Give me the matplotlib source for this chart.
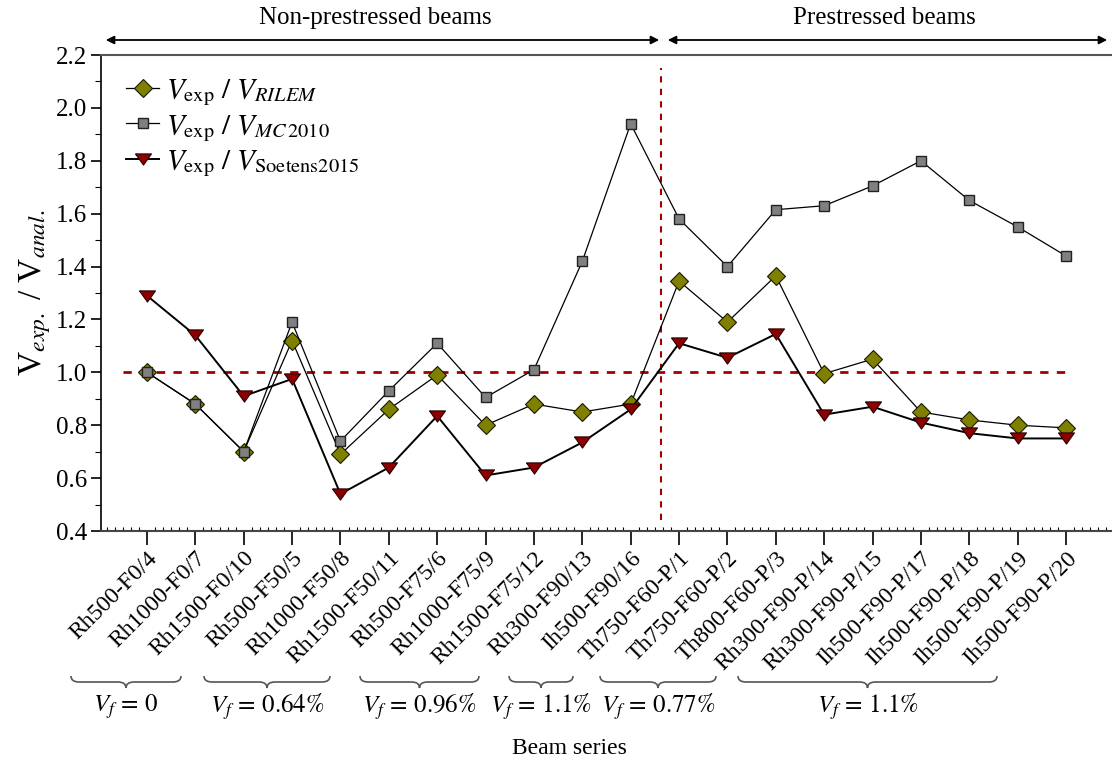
import matplotlib

matplotlib.use("Agg")
import matplotlib.pyplot as plt
from matplotlib.path import Path
from matplotlib.patches import PathPatch, FancyArrowPatch
from matplotlib.ticker import AutoMinorLocator, MultipleLocator

plt.rcParams["font.family"] = ["Liberation Serif", "DejaVu Serif"]
plt.rcParams["mathtext.fontset"] = "stix"

beams = [
    "Rh500-F0/4", "Rh1000-F0/7", "Rh1500-F0/10", "Rh500-F50/5", "Rh1000-F50/8",
    "Rh1500-F50/11", "Rh500-F75/6", "Rh1000-F75/9", "Rh1500-F75/12", "Rh300-F90/13",
    "Ih500-F90/16", "Th750-F60-P/1", "Th750-F60-P/2", "Th800-F60-P/3", "Rh300-F90-P/14",
    "Rh300-F90-P/15", "Ih500-F90-P/17", "Ih500-F90-P/18", "Ih500-F90-P/19", "Ih500-F90-P/20",
]
ratio_rilem = [1.00, 0.88, 0.70, 1.12, 0.69, 0.86, 0.99, 0.80, 0.88, 0.85,
               0.88, 1.345, 1.19, 1.365, 0.995, 1.05, 0.85, 0.82, 0.80, 0.79]
ratio_mc2010 = [1.00, 0.88, 0.70, 1.19, 0.74, 0.93, 1.11, 0.905, 1.01, 1.42,
                1.94, 1.58, 1.40, 1.615, 1.63, 1.705, 1.80, 1.65, 1.55, 1.44]
ratio_soetens = [1.29, 1.14, 0.91, 0.975, 0.54, 0.64, 0.835, 0.61, 0.64, 0.735,
                 0.86, 1.11, 1.055, 1.145, 0.84, 0.87, 0.81, 0.77, 0.75, 0.75]
y_ticks = [0.4, 0.6, 0.8, 1.0, 1.2, 1.4, 1.6, 1.8, 2.0, 2.2]
fibre_groups = ["0", "0.64%", "0.96%", "1.1%", "0.77%", "1.1%"]

W, H = 1112, 762
fig = plt.figure(figsize=(W / 100, H / 100), dpi=100)
ax = fig.add_axes([101 / W, (H - 531) / H, 1 - 101 / W, (531 - 55) / H])


def fx(x):
    return x / W


def fy(y):
    return 1 - y / H


x = list(range(1, len(beams) + 1))
flat_tri = [(-1, 0.7), (1, 0.7), (0, -0.7), (-1, 0.7)]

ax.plot(x, ratio_rilem, color="black", lw=0.9, marker="D", ms=9,
        mfc="#808000", mec="#1a1a00", mew=0.8, zorder=3,
        label=r"$V_{\mathrm{exp}}\ /\ V_{RILEM}$")
ax.plot(x, ratio_mc2010, color="black", lw=0.9, marker="s", ms=7.5,
        mfc="#808080", mec="#222222", mew=1.0, zorder=4,
        label=r"$V_{\mathrm{exp}}\ /\ V_{MC\,\mathrm{2010}}$")
ax.plot(x, ratio_soetens, color="black", lw=1.4, marker=flat_tri, ms=11.5,
        mfc="#8b0000", mec="#2a0000", mew=0.8, zorder=5,
        label=r"$V_{\mathrm{exp}}\ /\ V_{\mathrm{Soetens2015}}$")

# reference line at ratio 1 and split between beam types
ax.plot([0.5, 20.05], [1.0, 1.0], color="#a00000", lw=2, ls=(0, (3, 3)), zorder=2)
ax.plot([11.62, 11.62], [0.44, 2.15], color="#a00000", lw=1.5, ls=(0, (3, 3)), zorder=2)

ax.set_xlim(0.05, 20.95)
ax.set_yticks(y_ticks)
ax.set_yticklabels([f"{v:.1f}" for v in y_ticks], fontsize=18)
ax.yaxis.set_minor_locator(MultipleLocator(0.1))
ax.set_ylim(0.4, 2.2)
ax.set_xticks(x)
ax.set_xticklabels(beams, rotation=45, ha="right", va="top",
                   rotation_mode="anchor", fontsize=17)
ax.xaxis.set_minor_locator(AutoMinorLocator(6))
ax.tick_params(axis="x", which="major", direction="out", length=10, width=1.2, pad=2)
ax.tick_params(axis="x", which="minor", direction="in", length=3, width=0.8)
ax.tick_params(axis="y", which="major", direction="out", length=7, width=1.2, pad=3)
ax.tick_params(axis="y", which="minor", direction="out", length=4, width=0.8)
ax.tick_params(top=False, right=False, which="both")
ax.spines["right"].set_visible(False)
ax.spines["top"].set_color("#555555")
ax.spines["top"].set_linewidth(1.5)
ax.spines["bottom"].set_color("#444444")
ax.spines["bottom"].set_linewidth(1.5)
ax.spines["left"].set_linewidth(1.2)

ax.set_ylabel(r"V$_{exp.}$ / V$_{anal.}$", fontsize=24, labelpad=2)

ax.legend(loc="upper left", bbox_to_anchor=(0.005, 0.995), frameon=False,
          fontsize=21, handlelength=1.1, handletextpad=0.25,
          labelspacing=0.15, borderaxespad=0.3)

# span arrows and headings above the plot
arrow_y = fy(40)
for x0, x1 in [(103, 662), (665, 1110)]:
    fig.patches.append(FancyArrowPatch(
        (fx(x0), arrow_y), (fx(x1), arrow_y), transform=fig.transFigure,
        arrowstyle="<|-|>", mutation_scale=12, color="black", lw=1.3))
for cx, text in [(375, "Non-prestressed beams"), (884, "Prestressed beams")]:
    fig.text(fx(cx), fy(18), text, ha="center", va="center", fontsize=18)


def brace(x0, x1, y, h=6, r=8):
    xm = (x0 + x1) / 2
    pts = [
        (x0, y - h), (x0, y), (x0 + r, y),
        (xm - r, y),
        (xm, y), (xm, y + h),
        (xm, y), (xm + r, y),
        (x1 - r, y),
        (x1, y), (x1, y - h),
    ]
    codes = [Path.MOVETO, Path.CURVE3, Path.CURVE3, Path.LINETO,
             Path.CURVE3, Path.CURVE3, Path.CURVE3, Path.CURVE3,
             Path.LINETO, Path.CURVE3, Path.CURVE3]
    verts = [(fx(px), fy(py)) for px, py in pts]
    fig.patches.append(PathPatch(Path(verts, codes), transform=fig.transFigure,
                                 fill=False, edgecolor="#555555", lw=1.2))


brace_spans = [(71, 181), (204, 330), (360, 479), (509, 573), (600, 716), (738, 997)]
for (x0, x1), vf in zip(brace_spans, fibre_groups):
    brace(x0, x1, 682)
    label = vf.replace("%", r"\%")
    fig.text(fx((x0 + x1) / 2), fy(707), rf"$V_f\,=\,{label}$",
             ha="center", va="center", fontsize=18)

fig.text(fx(569), fy(748), "Beam series", ha="center", va="center", fontsize=17)

fig.savefig("out.png", dpi=100)
